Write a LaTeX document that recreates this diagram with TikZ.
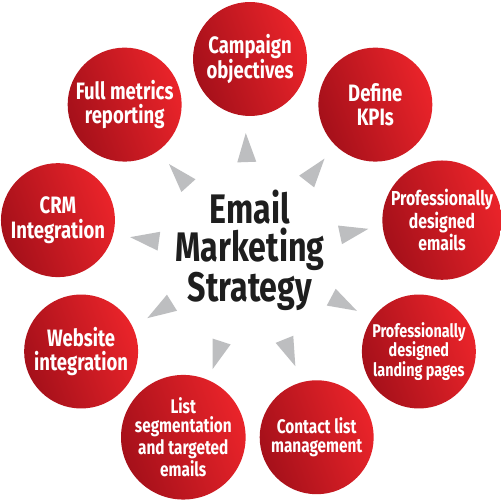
\documentclass[tikz,border=0pt]{standalone}
\usepackage{fontspec}
\setmainfont{Fira Sans}[FakeStretch=0.78]
\usetikzlibrary{calc}
\definecolor{cdark}{RGB}{165,16,26}
\definecolor{clight}{RGB}{234,36,42}
\definecolor{tgray}{RGB}{189,190,192}
\definecolor{ink}{RGB}{30,30,30}
\begin{document}
\begin{tikzpicture}[x=0.02cm,y=0.02cm,
  bubble/.style={circle, minimum size=2.28cm, inner sep=0pt,
    top color=clight, bottom color=cdark, shading angle=-70,
    text=white, align=center, font=\bfseries\fontsize{13.5}{14}\selectfont},
  fsA/.style={font=\bfseries\fontsize{11.5}{11.6}\selectfont},
  fsB/.style={font=\bfseries\fontsize{10.5}{10.9}\selectfont},
  fsC/.style={font=\bfseries\fontsize{11.2}{10.8}\selectfont},
  midtitle/.style={text=ink, align=center, font=\bfseries\fontsize{23.5}{21.6}\selectfont},
  tri/.style={fill=tgray}]
\fill[white] (0,0) rectangle (500,500);
\useasboundingbox (0,0) rectangle (500,500);
\coordinate (O) at (250,246);
\node[midtitle] (title) at (250,250) {Email\\Marketing\\Strategy};
\node[bubble] (c1) at ($(O)+(90:195)$) {Campaign\\objectives};
\node[bubble] (c2) at ($(O)+(50:195)$) {Define\\KPIs};
\node[bubble, fsA] (c3) at ($(O)+(10:195)$) {Professionally\\designed\\emails};
\node[bubble, fsB] (c4) at ($(O)+(-30:195)$) {Professionally\\designed\\landing pages};
\node[bubble, fsC] (c5) at ($(O)+(-70:195)$) {Contact list\\management};
\node[bubble, fsC] (c6) at ($(O)+(-110:195)$) {List\\segmentation\\and targeted\\emails};
\node[bubble] (c7) at ($(O)+(-150:195)$) {Website\\integration};
\node[bubble] (c8) at ($(O)+(170:195)$) {CRM\\Integration};
\node[bubble] (c9) at ($(O)+(130:195)$) {Full metrics\\reporting};
\foreach \a in {90,50,10,-30,-70,-110,-150,170,130}{
  \fill[tri] ($(O)+(\a+2:121)$) -- ($(O)+(\a+2:92)+(\a+92:9.5)$)
     -- ($(O)+(\a+2:92)+(\a-88:9.5)$) -- cycle;
}
\end{tikzpicture}
\end{document}
